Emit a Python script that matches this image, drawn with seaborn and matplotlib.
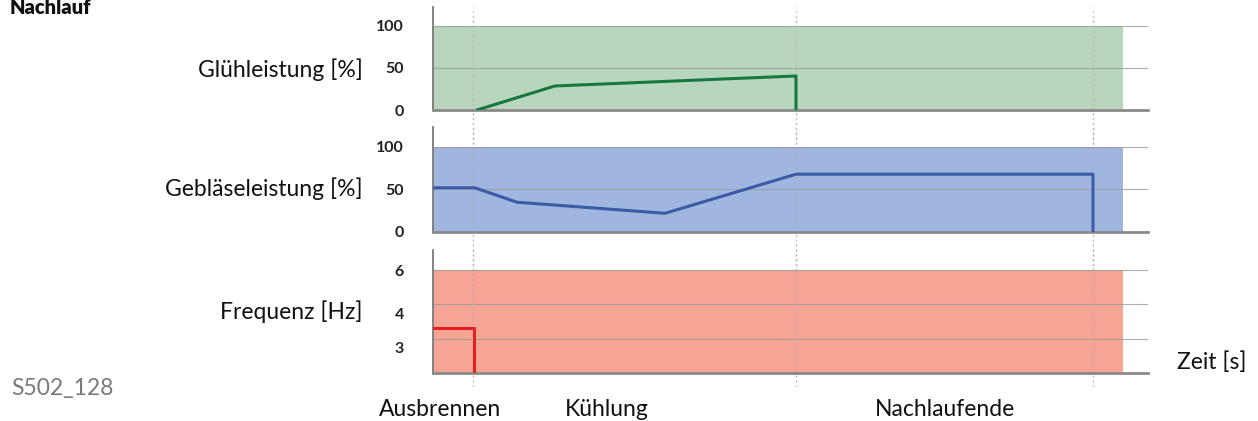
import numpy as np
import pandas as pd
import matplotlib
matplotlib.use("Agg")
import matplotlib.pyplot as plt
import matplotlib.transforms as mtransforms
import seaborn as sns

# time axis (schematic units)
phase_marks = [4.0, 36.3, 66.0]
phase_names = ["Ausbrennen", "Kühlung", "Nachlaufende"]
fill_end = 69.0
t_max = 71.5

# Glühleistung [%]
glow_t = [4.4, 12.2, 36.3, 36.3]
glow_v = [0, 28.6, 40.5, 0]

# Gebläseleistung [%]
fan_t = [0, 4.2, 8.4, 23.2, 36.3, 66.0, 66.0]
fan_v = [52, 52, 35, 22, 68, 68, 0]

# Frequenz [Hz]
freq_t = [0, 4.1, 4.1]
freq_v = [3.3, 3.3, 2.0]
freq_ticks = [3, 4, 6]
# the Hz axis is drawn with evenly spaced levels
freq_levels = [2, 3, 4, 6]


def hz_pos(v):
    return np.interp(v, freq_levels, range(len(freq_levels)))


W, H = 1258, 421
sns.set_style("white")
plt.rcParams["font.family"] = ["Lato", "DejaVu Sans"]

fig = plt.figure(figsize=(W / 100, H / 100), dpi=100)


def px(x, y):
    return x / W, 1 - y / H


def make_ax(top, bottom):
    ax = fig.add_axes([433 / W, 1 - bottom / H, (1148 - 433) / W, (bottom - top) / H])
    ax.patch.set_alpha(0)
    for s in ["top", "right"]:
        ax.spines[s].set_visible(False)
    ax.spines["left"].set_color("#7a7a7a")
    ax.spines["left"].set_linewidth(1.3)
    ax.spines["bottom"].set_color("#8a8a8a")
    ax.spines["bottom"].set_linewidth(2)
    ax.tick_params(axis="y", length=4, width=1, color="#7a7a7a", pad=17,
                   labelsize=11.5, labelcolor="#222222")
    ax.tick_params(axis="x", length=0, labelbottom=False)
    ax.set_xlim(0, t_max)
    return ax


panels = [
    dict(top=7, bottom=110, ylim=122.6, ticks=[0, 50, 100], labels=["0", "50", "100"],
         fill="#b8d6bd", line="#17783f", t=glow_t, v=glow_v, label="Glühleistung [%]", ly=70),
    dict(top=127, bottom=232, ylim=123.5, ticks=[0, 50, 100], labels=["0", "50", "100"],
         fill="#a0b6de", line="#3a5ca8", t=fan_t, v=fan_v, label="Gebläseleistung [%]", ly=189),
    dict(top=250, bottom=373, ylim=3.59, ticks=list(hz_pos(freq_ticks)),
         labels=[str(f) for f in freq_ticks],
         fill="#f6a494", line="#e3201f", t=freq_t, v=list(hz_pos(freq_v)),
         label="Frequenz [Hz]", ly=312),
]

for i, p in enumerate(panels):
    ax = make_ax(p["top"], p["bottom"])
    top_val = p["ticks"][-1]
    ax.fill_between([0, fill_end], 0, top_val, color=p["fill"], lw=0, zorder=1)
    for yv in p["ticks"][1:] if i < 2 else p["ticks"]:
        ax.plot([0, t_max], [yv, yv], color="#9a9a9a", lw=0.8, alpha=0.8, zorder=2)
    for m in phase_marks:
        ax.axvline(m, color="#b0b0b0", lw=1, ls=(0, (1.5, 2)), alpha=0.6, zorder=2)
    df = pd.DataFrame({"t": p["t"], "v": p["v"]})
    sns.lineplot(data=df, x="t", y="v", ax=ax, estimator=None, sort=False,
                 color=p["line"], lw=2.2, zorder=3)
    ax.set_ylim(0, p["ylim"])
    ax.set_yticks(p["ticks"])
    ax.set_yticklabels(p["labels"], fontweight="bold")
    ax.set_xlabel("")
    ax.set_ylabel("")
    if i == 2:
        # lower labels sit a little below their grid lines
        for lab in ax.get_yticklabels()[:2]:
            lab.set_transform(lab.get_transform() +
                              mtransforms.ScaledTranslation(0, -9 / 100, fig.dpi_scale_trans))
    fx, fy = px(363, p["ly"])
    fig.text(fx, fy, p["label"], ha="right", va="center", fontsize=16.5, color="#111111")

# dotted phase markers running through the gaps between the panels
ov = fig.add_axes([433 / W, 1 - 387 / H, (1148 - 433) / W, (387 - 17) / H], zorder=-1)
ov.set_xlim(0, t_max)
ov.set_ylim(0, 1)
ov.axis("off")
for m in phase_marks:
    ov.axvline(m, color="#b0b0b0", lw=1, ls=(0, (1.5, 2)), alpha=0.8)

for name, x in zip(phase_names, [440, 607, 945]):
    fx, fy = px(x, 409)
    fig.text(fx, fy, name, ha="center", va="center", fontsize=16.5, color="#111111")

fx, fy = px(1177, 362)
fig.text(fx, fy, "Zeit [s]", ha="left", va="center", fontsize=16.5, color="#111111")
fx, fy = px(10, 8)
fig.text(fx, fy, "Nachlauf", ha="left", va="center", fontsize=14.5, fontweight="heavy",
         color="#111111")
fx, fy = px(11, 388)
fig.text(fx, fy, "S502_128", ha="left", va="center", fontsize=16.5, color="#7a7a7a")

fig.savefig("out.png", dpi=100)
